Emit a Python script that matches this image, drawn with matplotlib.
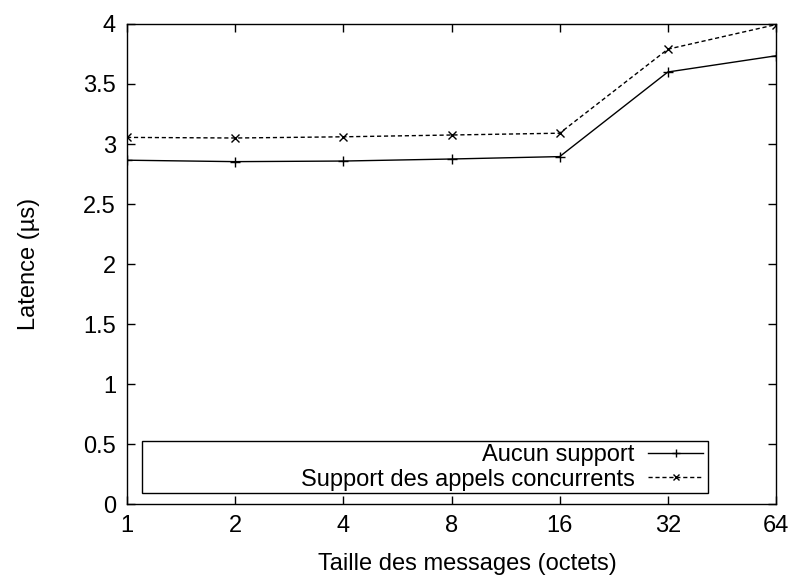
import matplotlib
matplotlib.use("Agg")
import matplotlib.pyplot as plt
from matplotlib.patches import Rectangle
from matplotlib.ticker import FixedLocator, FixedFormatter, MultipleLocator

# message sizes (bytes) and latencies (us)
sizes = [1, 2, 4, 8, 16, 32, 64]
size_labels = ["1", "2", "4", "8", "16", "32", "64"]
no_support = [2.865, 2.853, 2.858, 2.875, 2.895, 3.60, 3.735]
concurrent = [3.055, 3.050, 3.060, 3.075, 3.090, 3.790, 3.995]

plt.rcParams['font.family'] = ['Liberation Sans', 'DejaVu Sans']
fs = 17

fig = plt.figure(figsize=(7.92, 5.81), dpi=100)
ax = fig.add_axes([0.1604, 0.1325, 0.8194, 0.8262])

ax.plot(sizes, no_support, color='black', lw=1, marker='+', ms=7, mew=1,
        label="Aucun support")
ax.plot(sizes, concurrent, color='black', lw=1, ls=(0, (3, 2)), marker='x',
        ms=6, mew=1, label="Support des appels concurrents")

ax.set_xscale('log', base=2)
ax.set_xlim(1, 64)
ax.set_ylim(0, 4)
ax.xaxis.set_major_locator(FixedLocator(sizes))
ax.xaxis.set_major_formatter(FixedFormatter(size_labels))
ax.xaxis.set_minor_locator(FixedLocator([]))
ax.yaxis.set_major_locator(MultipleLocator(0.5))
ax.yaxis.set_major_formatter(plt.FuncFormatter(lambda v, p: f"{v:g}"))

ax.tick_params(direction='in', top=True, right=True, length=6, width=1,
               labelsize=fs, pad=8)
for s in ax.spines.values():
    s.set_linewidth(1)

ax.set_xlabel("Taille des messages (octets)", fontsize=fs)
ax.xaxis.set_label_coords(0.525, -0.102)
ax.set_ylabel("Latence (µs)", fontsize=fs, labelpad=31)

# legend: entries right-aligned, frame drawn wider like gnuplot's key box
leg = ax.legend(loc='lower right', bbox_to_anchor=(0.888, 0.028),
                markerfirst=False, frameon=False, borderaxespad=0,
                handlelength=2.35, handletextpad=0.55, labelspacing=0.1,
                borderpad=0.0, markerscale=0.75, fontsize=fs)
ax.add_patch(Rectangle((0.0231, 0.0229), 0.872, 0.108, transform=ax.transAxes,
                       fill=False, edgecolor='black', lw=1, zorder=5))

fig.savefig("out.png", dpi=100)
